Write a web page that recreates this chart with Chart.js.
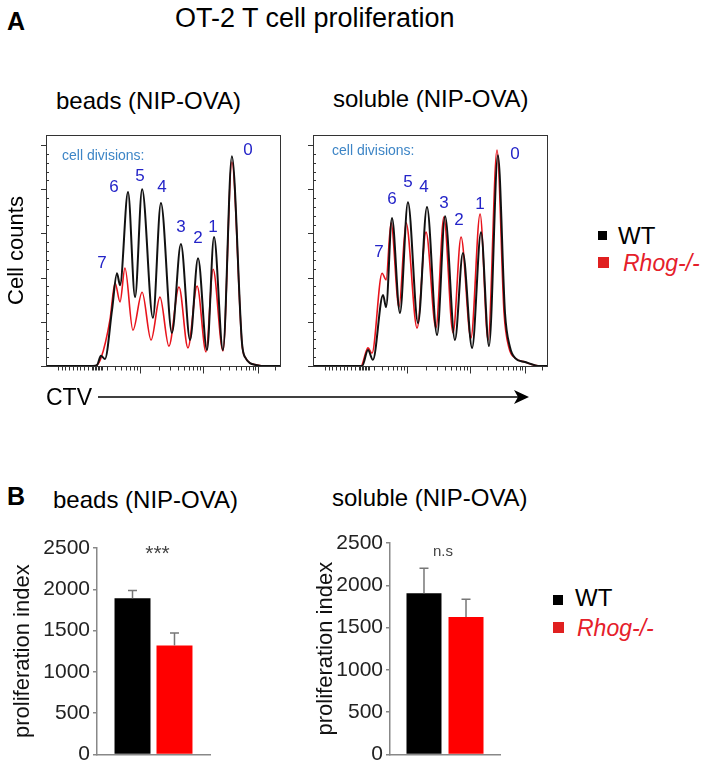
<!DOCTYPE html>
<html>
<head>
<meta charset="utf-8">
<script src="https://cdn.jsdelivr.net/npm/chart.js@4.4.0/dist/chart.umd.min.js"></script>
<style>
  body { margin: 0; background: #fff; font-family: "Liberation Sans", Arial, sans-serif; }
  #page { position: relative; width: 709px; height: 773px; overflow: hidden; }
  .t { position: absolute; white-space: nowrap; line-height: 1; color: #000; }
  .sq { position: absolute; }
  canvas { position: absolute; }
</style>
</head>
<body>
<div id="page">
  <div class="t" style="left:7px;top:9px;font-size:25px;font-weight:bold">A</div>
  <div class="t" style="left:175px;top:5px;font-size:27px">OT-2 T cell proliferation</div>
  <div class="t" style="left:56px;top:89px;font-size:24px">beads (NIP-OVA)</div>
  <div class="t" style="left:333px;top:87px;font-size:24px">soluble (NIP-OVA)</div>

  <canvas id="beadsHist" width="290" height="265" style="left:0;top:120px"></canvas>
  <canvas id="solubleHist" width="270" height="265" style="left:290px;top:120px"></canvas>

  <div class="t" style="left:46px;top:386px;font-size:23px">CTV</div>
  <svg style="position:absolute;left:0;top:380px" width="560" height="34">
    <line x1="98" y1="17" x2="518" y2="17" stroke="#000" stroke-width="1.5"/>
    <polygon points="529,17 514,10 518,17 514,24" fill="#000"/>
  </svg>

  <div class="sq" style="left:598px;top:231px;width:9px;height:9px;background:#000"></div>
  <div class="t" style="left:618px;top:224px;font-size:24px">WT</div>
  <div class="sq" style="left:598px;top:257px;width:11px;height:11px;background:#e02020"></div>
  <div class="t" style="left:623px;top:252px;font-size:23px;font-style:italic;color:#e5202a">Rhog-/-</div>

  <div class="t" style="left:7px;top:484px;font-size:25px;font-weight:bold">B</div>
  <div class="t" style="left:53px;top:488px;font-size:24px">beads (NIP-OVA)</div>
  <div class="t" style="left:332px;top:486px;font-size:24px">soluble (NIP-OVA)</div>

  <canvas id="beadsBar" width="230" height="250" style="left:0;top:520px"></canvas>
  <canvas id="solubleBar" width="220" height="250" style="left:300px;top:520px"></canvas>

  <div class="sq" style="left:553px;top:595px;width:10px;height:10px;background:#000"></div>
  <div class="t" style="left:575px;top:586px;font-size:24px">WT</div>
  <div class="sq" style="left:553px;top:622px;width:11px;height:11px;background:#e02020"></div>
  <div class="t" style="left:577px;top:617px;font-size:23px;font-style:italic;color:#e5202a">Rhog-/-</div>
</div>

<script>
// histogram traces, [CTV channel (0-100 of the display), cell count]
const beadsWT = [[0,0],[20,0],[21.7,2],[23.4,23],[25.1,16],[28.1,127],[30.2,210],[31.5,183],[34.9,394],[37.9,156],[40.9,400],[45.5,109],[48.9,369],[53.6,75],[57.4,276],[61.3,59],[64.7,244],[68.5,36],[71.5,292],[75.3,36],[79.1,475],[83.4,52],[84.7,20],[89.8,2],[94,0],[100,0]];
const beadsRhog = [[0,0],[20.9,0],[23.4,18],[27.2,104],[29.4,188],[31.5,145],[33.6,222],[37,81],[40.9,167],[44.7,59],[48.5,156],[52.3,45],[56.6,179],[60.4,41],[64.3,181],[68.1,32],[71.1,219],[75.3,34],[79.1,462],[83.4,50],[84.7,20],[89.8,2],[94,0],[100,0]];
const solubleWT = [[0,0],[20.9,0],[23.4,36],[25.5,14],[29.8,161],[31.1,133],[33.6,335],[37,120],[40.4,371],[44.7,97],[48.5,360],[52.8,70],[56.2,339],[60.4,59],[63.8,256],[67.7,41],[71.5,303],[74.9,45],[78.7,477],[81.7,120],[83.8,43],[86,18],[90.2,9],[96.6,0],[100,0]];
const solubleRhog = [[0,0],[20.4,0],[23.4,41],[25.1,29],[29.4,210],[31.1,195],[33.2,324],[36.6,133],[39.6,324],[44.3,86],[48.1,303],[52.3,86],[55.7,337],[59.6,75],[63,292],[67.2,63],[71.1,344],[74.5,59],[78.3,489],[81.3,120],[83.4,41],[86,18],[90.2,9],[96.6,0],[100,0]];

// division numbers and where they sit (data units)
const divisions = ['0', '1', '2', '3', '4', '5', '6', '7'];
const beadsLabelX = [86, 71.1, 64.7, 57.4, 49.4, 40, 28.9, 23.8];
const beadsLabelY = [489, 314, 290, 314, 405, 430, 405, 233];
const solubleLabelX = [86, 71.1, 62.1, 55.7, 47.2, 40.4, 33.6, 28.1];
const solubleLabelY = [480, 367, 330, 369, 405, 416, 378, 258];

// axis ticks of the flow plots
const countTicks = [0,20,40,60,80,100,120,140,160,180,200,220,240,260,280,300,320,340,360,380,400,420,440,460,480,500];
const ctvDecades = [13.2, 40, 66.8, 90.2, 113.6];
const ctvLinear = [5,6.6,8.2,9.8,11.4,13,14.6,16.2,17.8,19.4,20.2,20.8,21.4,22,22.6,23.2,23.8];

// proliferation index
const groups = ['WT', 'Rhog-/-'];
const beadsIndex = [1890, 1320];
const beadsErr = [95, 150];
const solubleIndex = [1905, 1625];
const solubleErr = [295, 210];
const indexTicks = [0, 500, 1000, 1500, 2000, 2500];

Chart.defaults.font.family = '"Liberation Sans", Arial, sans-serif';
Chart.defaults.color = '#000';

const ctvMinor = [];
for (let d = 0; d < ctvDecades.length - 1; d++) {
  for (let k = 2; k <= 9; k++) {
    const v = ctvDecades[d] + Math.log10(k) * (ctvDecades[d + 1] - ctvDecades[d]);
    if (v > 24.5 && v <= 100) ctvMinor.push(v);
  }
}
const ctvMajor = ctvDecades.slice(1, 4);

const toXY = arr => arr.map(p => ({ x: p[0], y: p[1] }));

const histDecor = {
  id: 'histDecor',
  afterDatasetsDraw(chart, args, opts) {
    const { ctx, chartArea: a, scales: { x, y } } = chart;
    ctx.save();
    ctx.strokeStyle = '#333';
    ctx.lineWidth = 1;
    ctx.strokeRect(a.left + 0.5, a.top + 0.5, a.right - a.left - 1, a.bottom - a.top);
    ctx.beginPath();
    countTicks.forEach(v => {
      const py = Math.round(y.getPixelForValue(v)) + 0.5;
      if (v % 100 === 0) { ctx.moveTo(a.left - 5, py); ctx.lineTo(a.left + 1, py); }
      else { ctx.moveTo(a.left, py); ctx.lineTo(a.left + 3, py); }
    });
    const b = a.bottom + 0.5;
    ctvLinear.concat(ctvMinor).forEach(v => {
      const px = Math.round(x.getPixelForValue(v)) + 0.5;
      ctx.moveTo(px, b); ctx.lineTo(px, b + 4);
    });
    ctvMajor.forEach(v => {
      const px = Math.round(x.getPixelForValue(v)) + 0.5;
      ctx.moveTo(px, b); ctx.lineTo(px, b + 7);
    });
    ctx.stroke();

    ctx.fillStyle = '#3d85c6';
    ctx.font = '14px "Liberation Sans", Arial, sans-serif';
    ctx.textBaseline = 'middle';
    ctx.fillText('cell divisions:', a.left + opts.noteDx, a.top + opts.noteDy);

    ctx.fillStyle = '#2424c8';
    ctx.font = '17px "Liberation Sans", Arial, sans-serif';
    ctx.textAlign = 'center';
    divisions.forEach((d, i) => {
      ctx.fillText(d, x.getPixelForValue(opts.lx[i]), y.getPixelForValue(opts.ly[i]));
    });
    ctx.restore();
  }
};

function histChart(id, wt, rhog, lx, ly, withTitle, padLeft, noteDx, noteDy) {
  return new Chart(document.getElementById(id), {
    type: 'line',
    data: {
      datasets: [
        { label: 'WT', data: toXY(wt), borderColor: '#111', borderWidth: 2, pointRadius: 0, cubicInterpolationMode: 'monotone' },
        { label: 'Rhog-/-', data: toXY(rhog), borderColor: '#e8141c', borderWidth: 1.6, pointRadius: 0, cubicInterpolationMode: 'monotone' }
      ]
    },
    options: {
      responsive: false,
      animation: false,
      layout: { padding: { left: padLeft, right: withTitle ? 9 : 12, top: 15, bottom: 19 } },
      scales: {
        x: { type: 'linear', min: 0, max: 100, display: false },
        y: {
          min: 0, max: 523,
          display: withTitle,
          ticks: { display: false },
          grid: { display: false },
          border: { display: false },
          title: { display: true, text: 'Cell counts', font: { size: 22 }, padding: { top: 4, bottom: 0 } },
          afterFit: s => { s.width = withTitle ? 46 : 0; }
        }
      },
      plugins: {
        legend: { display: false },
        tooltip: { enabled: false },
        histDecor: { lx: lx, ly: ly, noteDx: noteDx, noteDy: noteDy }
      }
    },
    plugins: [histDecor]
  });
}

histChart('beadsHist', beadsWT, beadsRhog, beadsLabelX, beadsLabelY, true, 0, 16, 21);
histChart('solubleHist', solubleWT, solubleRhog, solubleLabelX, solubleLabelY, false, 23, 19, 16);

const barDecor = {
  id: 'barDecor',
  afterDatasetsDraw(chart, args, opts) {
    const { ctx, chartArea: a, scales: { y } } = chart;
    ctx.save();
    ctx.strokeStyle = '#777';
    ctx.lineWidth = 1.5;
    ctx.beginPath();
    chart.data.datasets.forEach((ds, i) => {
      const bar = chart.getDatasetMeta(i).data[0];
      const top = y.getPixelForValue(ds.data[0] + opts.errs[i]);
      ctx.moveTo(bar.x, bar.y); ctx.lineTo(bar.x, top);
      ctx.moveTo(bar.x - 4.5, top); ctx.lineTo(bar.x + 4.5, top);
    });
    ctx.stroke();
    ctx.fillStyle = '#444';
    ctx.font = opts.noteFont;
    ctx.textAlign = 'center';
    ctx.textBaseline = 'middle';
    ctx.fillText(opts.note, (a.left + a.right) / 2 + opts.noteDx, y.getPixelForValue(2500) + opts.noteDy);
    ctx.restore();
  }
};

function barChart(id, values, errs, axisWidth, pad, titlePad, catPct, barPct, note, noteFont, noteDx, noteDy) {
  return new Chart(document.getElementById(id), {
    type: 'bar',
    data: {
      labels: [''],
      datasets: [
        { label: groups[0], data: [values[0]], backgroundColor: '#000' },
        { label: groups[1], data: [values[1]], backgroundColor: '#ff0000' }
      ]
    },
    options: {
      responsive: false,
      animation: false,
      layout: { padding: pad },
      categoryPercentage: catPct,
      barPercentage: barPct,
      scales: {
        x: {
          grid: { display: false },
          ticks: { display: false },
          border: { color: '#888', width: 1.5 },
          afterFit: s => { s.height = 0; }
        },
        y: {
          min: 0, max: 2500,
          afterBuildTicks: s => { s.ticks = indexTicks.map(v => ({ value: v })); },
          ticks: { font: { size: 21 }, color: '#222', padding: 3, callback: v => String(v) },
          grid: { drawOnChartArea: false, tickLength: 4, color: '#888', lineWidth: 1.5 },
          border: { color: '#888', width: 1.5 },
          title: { display: true, text: 'proliferation index', font: { size: 22 }, color: '#111', padding: { top: titlePad, bottom: 0 } },
          afterFit: s => { s.width = axisWidth; }
        }
      },
      plugins: {
        legend: { display: false },
        tooltip: { enabled: false },
        barDecor: { errs: errs, note: note, noteFont: noteFont, noteDx: noteDx, noteDy: noteDy }
      }
    },
    plugins: [barDecor]
  });
}

barChart('beadsBar', beadsIndex, beadsErr, 97, { left: 0, right: 20, top: 28, bottom: 13 }, 10, 0.743, 0.857, '***', '21px "Liberation Sans", Arial, sans-serif', 4, 6);
barChart('solubleBar', solubleIndex, solubleErr, 90, { left: 0, right: 20, top: 23, bottom: 15 }, 13, 0.764, 0.833, 'n.s', '15px "Liberation Sans", Arial, sans-serif', -2, 9);
</script>
</body>
</html>
